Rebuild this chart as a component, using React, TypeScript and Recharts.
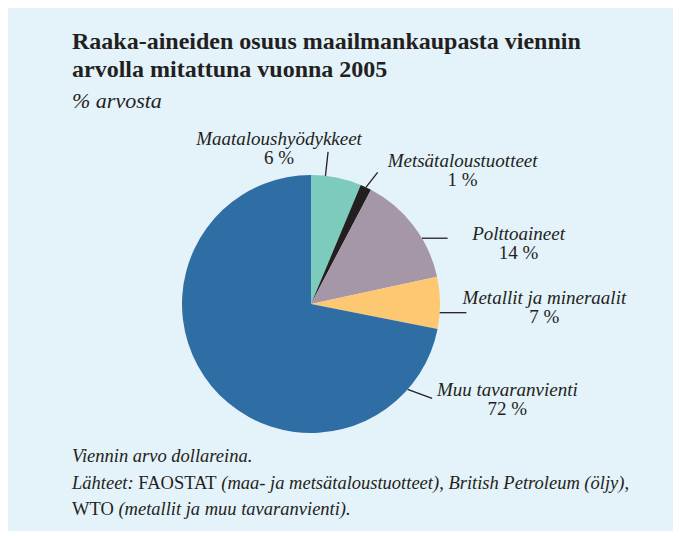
import React from "react";
import { PieChart, Pie, Cell } from "recharts";

const CATEGORIES = [
  "Maataloushyödykkeet",
  "Metsätaloustuotteet",
  "Polttoaineet",
  "Metallit ja mineraalit",
  "Muu tavaranvienti",
];
const SHARES = [6.3, 1.4, 13.9, 6.5, 71.9];
const SHARE_LABELS = ["6 %", "1 %", "14 %", "7 %", "72 %"];

const COLORS = ["#7ccbbd", "#231f20", "#a596a8", "#fec872", "#2e6ea5"];

// where each callout leaves the pie (degrees off the slice middle), the leader line and the text offset
const CALLOUTS = [
  { shift: 4.9, line: [2.6, -24], text: [-49, -7, 12] },
  { shift: 0, line: [11.7, -15], text: [85, -5, 14] },
  { shift: -6.6, line: [25.6, 0], text: [71, 2, 21] },
  { shift: -4.4, line: [26.7, 0], text: [78, -9, 10] },
  { shift: 99.1, line: [24.4, 9], text: [75.3, -2, 17] },
];

const INK = "#231f20";
const FONT = "'Liberation Serif', 'Times New Roman', serif";

const data = CATEGORIES.map((name, i) => ({ name, value: SHARES[i] }));

const RAD = Math.PI / 180;

function Callout(props: any) {
  const { cx, cy, midAngle, outerRadius, index } = props;
  const c = CALLOUTS[index];
  const a = (midAngle + c.shift) * RAD;
  const x0 = cx + outerRadius * Math.cos(a);
  const y0 = cy - outerRadius * Math.sin(a);
  const x1 = x0 + c.line[0];
  const y1 = y0 + c.line[1];
  const tx = x1 + c.text[0];
  return (
    <g>
      <line x1={x0} y1={y0} x2={x1} y2={y1} stroke={INK} strokeWidth={1.3} />
      <text
        x={tx}
        y={y1 + c.text[1]}
        textAnchor="middle"
        fill={INK}
        fontFamily={FONT}
        fontStyle="italic"
        fontSize={19}
      >
        {CATEGORIES[index]}
      </text>
      <text
        x={tx}
        y={y1 + c.text[2]}
        textAnchor="middle"
        fill={INK}
        fontFamily={FONT}
        fontSize={19}
      >
        {SHARE_LABELS[index]}
      </text>
    </g>
  );
}

export default function App() {
  return (
    <div
      style={{
        position: "relative",
        width: 665,
        height: 523,
        background: "#e4f2fa",
        fontFamily: FONT,
        color: INK,
      }}
    >
      <div
        style={{
          position: "absolute",
          left: 64,
          top: 19,
          fontSize: 24,
          fontWeight: "bold",
          lineHeight: "28px",
        }}
      >
        Raaka-aineiden osuus maailmankaupasta viennin
        <br />
        arvolla mitattuna vuonna 2005
      </div>
      <div
        style={{
          position: "absolute",
          left: 64,
          top: 80,
          fontSize: 22,
          fontStyle: "italic",
        }}
      >
        % arvosta
      </div>
      <div style={{ position: "absolute", left: 0, top: 0 }}>
        <PieChart width={665} height={523}>
          <Pie
            data={data}
            dataKey="value"
            cx={298}
            cy={291}
            outerRadius={129}
            startAngle={90}
            endAngle={-270}
            stroke="none"
            label={Callout}
            labelLine={false}
            isAnimationActive={false}
          >
            {data.map((d, i) => (
              <Cell key={d.name} fill={COLORS[i]} />
            ))}
          </Pie>
        </PieChart>
      </div>
      <div
        style={{
          position: "absolute",
          left: 64,
          top: 435,
          fontSize: 18.5,
          fontStyle: "italic",
          lineHeight: "26.5px",
        }}
      >
        Viennin arvo dollareina.
        <br />
        Lähteet: <span style={{ fontStyle: "normal" }}>FAOSTAT</span> (maa- ja
        metsätaloustuotteet)<span style={{ fontStyle: "normal" }}>,</span> British
        Petroleum (öljy)<span style={{ fontStyle: "normal" }}>,</span>
        <br />
        <span style={{ fontStyle: "normal" }}>WTO</span> (metallit ja muu
        tavaranvienti).
      </div>
    </div>
  );
}
